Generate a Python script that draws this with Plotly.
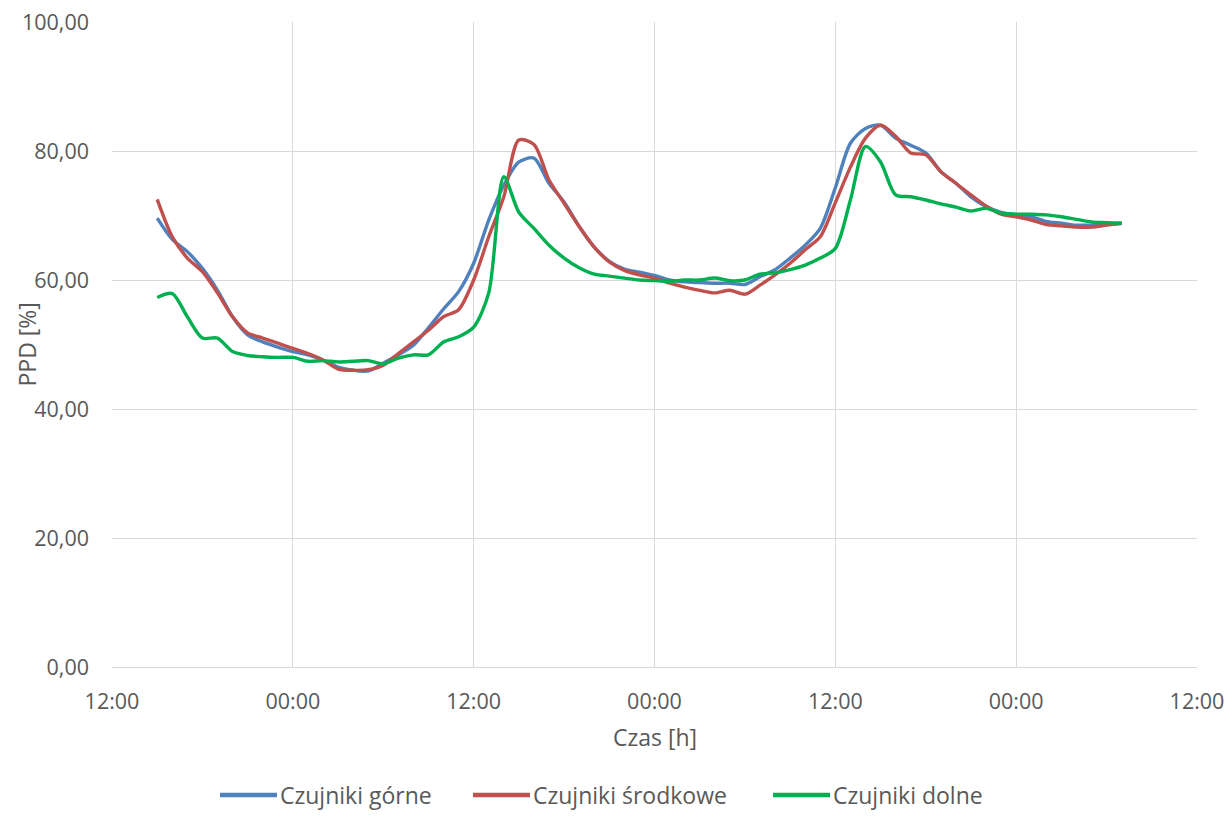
import pandas as pd
import plotly.graph_objects as go

# Hourly readings, starting 15:00 on the first day
start_time = "2024-01-01 15:00"
n_hours = 65

gorne = [69.6, 66.3, 64.4, 61.8, 58.4, 54.3, 51.5, 50.4, 49.6, 48.9,
         48.4, 47.6, 46.5, 46.0, 45.9, 47.1, 48.4, 49.9, 52.6, 55.5,
         58.2, 62.6, 69.3, 74.7, 78.3, 78.9, 75.0, 72.1, 68.3, 65.1,
         62.9, 61.7, 61.2, 60.7, 60.0, 59.7, 59.6, 59.5, 59.5, 59.3,
         60.5, 61.6, 63.4, 65.4, 68.0, 74.3, 81.2, 83.5, 84.0, 82.0,
         80.9, 79.7, 76.8, 75.0, 72.9, 71.4, 70.5, 70.1, 69.8, 69.1,
         68.8, 68.5, 68.5, 68.6, 68.8]

srodkowe = [72.5, 66.7, 63.4, 61.3, 58.0, 54.3, 51.8, 51.0, 50.2, 49.4,
            48.6, 47.6, 46.2, 46.0, 46.1, 46.8, 48.6, 50.4, 52.2, 54.3,
            55.4, 60.0, 66.7, 72.9, 81.7, 81.0, 75.5, 71.9, 68.3, 65.1,
            62.8, 61.5, 60.8, 60.3, 59.5, 58.9, 58.4, 58.0, 58.4, 57.8,
            59.2, 60.8, 62.6, 64.7, 66.7, 72.0, 77.5, 82.0, 84.0, 82.3,
            79.7, 79.4, 76.8, 75.0, 73.2, 71.5, 70.2, 69.8, 69.3, 68.6,
            68.4, 68.2, 68.2, 68.5, 68.8]

dolne = [57.3, 57.9, 54.3, 51.0, 51.0, 48.9, 48.3, 48.1, 48.0, 48.0,
         47.4, 47.5, 47.3, 47.4, 47.5, 47.0, 47.9, 48.4, 48.4, 50.4,
         51.2, 52.7, 58.0, 76.0, 70.5, 68.0, 65.4, 63.4, 61.9, 60.9,
         60.6, 60.3, 60.0, 59.9, 59.8, 60.0, 60.0, 60.3, 59.9, 60.0,
         60.9, 61.1, 61.6, 62.3, 63.4, 64.9, 72.4, 80.7, 78.3, 73.2,
         72.9, 72.4, 71.8, 71.3, 70.7, 71.1, 70.4, 70.2, 70.2, 70.1,
         69.8, 69.4, 69.0, 68.9, 68.8]

series_names = ["Czujniki górne", "Czujniki środkowe", "Czujniki dolne"]
series_colors = ["#4F81BD", "#C0504D", "#00B050"]

times = pd.date_range(start_time, periods=n_hours, freq="h")

FONT = "'Open Sans', sans-serif"
TXT = "#595959"
GRID = "#D9D9D9"

W, H = 1227, 820
ML, MR, MT, MB = 112, 30, 22, 153
PW, PH = W - ML - MR, H - MT - MB


def px_to_paper_x(px):
    return (px - ML) / PW


def px_to_paper_y(py):
    return (H - MB - py) / PH


fig = go.Figure()
for name, values, color in zip(series_names, [gorne, srodkowe, dolne], series_colors):
    fig.add_trace(go.Scatter(
        x=times, y=values, name=name, mode="lines", showlegend=False,
        line=dict(color=color, width=3.4, shape="spline", smoothing=0.8),
    ))

# Legend below the axis: a short coloured stroke followed by the series name
legend_y = px_to_paper_y(795)
legend_x0 = [220, 473, 773]
shapes, annotations = [], []
for name, color, x0 in zip(series_names, series_colors, legend_x0):
    shapes.append(dict(
        type="line", xref="paper", yref="paper",
        x0=px_to_paper_x(x0), x1=px_to_paper_x(x0 + 57), y0=legend_y, y1=legend_y,
        line=dict(color=color, width=4.5),
    ))
    annotations.append(dict(
        text=name, showarrow=False, xref="paper", yref="paper",
        x=px_to_paper_x(x0 + 58), y=legend_y, xanchor="left", yanchor="middle",
        font=dict(family=FONT, size=23, color=TXT),
    ))

annotations.append(dict(
    text="PPD [%]", textangle=-90, showarrow=False,
    xref="paper", yref="paper", x=px_to_paper_x(26), y=0.5,
    xanchor="center", yanchor="middle",
    font=dict(family=FONT, size=23, color=TXT),
))
annotations.append(dict(
    text="Czas [h]", showarrow=False,
    xref="paper", yref="paper", x=0.5, y=px_to_paper_y(737),
    xanchor="center", yanchor="middle",
    font=dict(family=FONT, size=23, color=TXT),
))

fig.update_layout(
    width=W, height=H,
    margin=dict(l=ML, r=MR, t=MT, b=MB, autoexpand=False),
    paper_bgcolor="white", plot_bgcolor="white",
    separators=", ",
    font=dict(family=FONT, size=21.5, color=TXT),
    showlegend=False,
    shapes=shapes,
    annotations=annotations,
)

fig.update_xaxes(
    type="date",
    range=["2024-01-01 12:00", "2024-01-04 12:00"],
    dtick=12 * 3600 * 1000, tick0="2024-01-01 12:00",
    tickformat="%H:%M",
    showgrid=True, gridcolor=GRID, gridwidth=1,
    showline=True, linecolor=GRID, linewidth=1,
    ticks="", ticklabelstandoff=15,
    zeroline=False,
)

fig.update_yaxes(
    range=[0, 100], dtick=20, tickformat=".2f",
    showgrid=True, gridcolor=GRID, gridwidth=1,
    showline=False, zeroline=False, ticks="", ticklabelstandoff=22,
)

fig.write_html("out.html")
